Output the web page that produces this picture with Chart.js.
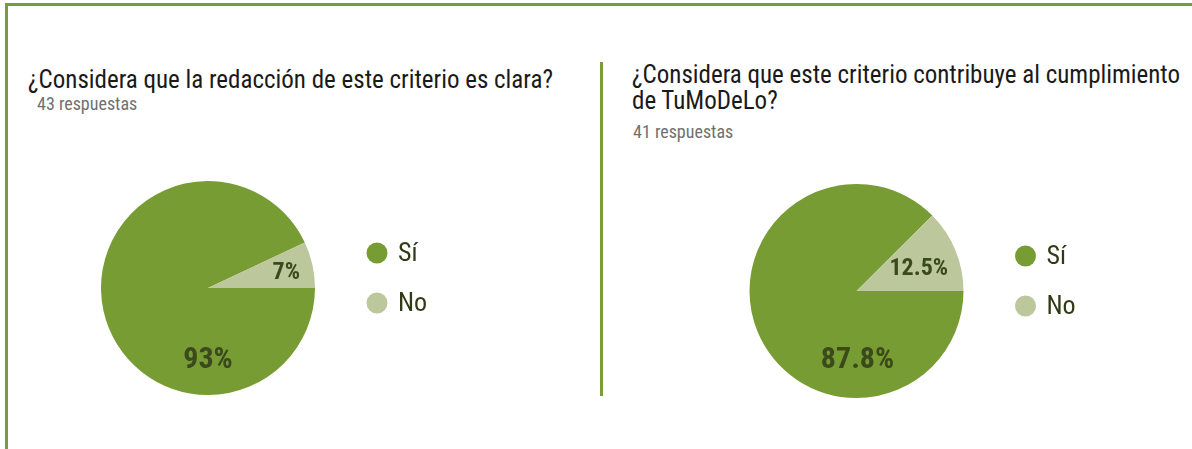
<!DOCTYPE html>
<html><head><meta charset="utf-8">
<script src="https://cdn.jsdelivr.net/npm/chart.js@4.4.1/dist/chart.umd.min.js"></script>
<style>
html,body{margin:0;padding:0;background:#fff;}
body{width:1192px;height:449px;position:relative;overflow:hidden;font-family:"Roboto Condensed","Liberation Sans Narrow","DejaVu Sans Condensed",sans-serif;}
.frameTop{position:absolute;left:5px;top:3px;width:1187px;height:3px;background:#7a9c38;}
.frameLeft{position:absolute;left:5px;top:3px;width:3px;height:446px;background:#7a9c38;}
.divider{position:absolute;left:600px;top:62px;width:3px;height:334px;background:#7a9c38;}
.title{position:absolute;font-size:25px;color:#1a1a1a;line-height:26px;white-space:nowrap;}
.sub{position:absolute;font-size:18px;line-height:18px;color:#707070;white-space:nowrap;}
canvas{position:absolute;}
</style></head><body>
<div class="frameTop"></div><div class="frameLeft"></div><div class="divider"></div>
<div class="title" id="t1" style="left:28px;top:67px;"></div>
<div class="sub" id="s1" style="left:37px;top:95px;"></div>
<div class="title" id="t2" style="left:632px;top:62px;"></div>
<div class="sub" id="s2" style="left:633px;top:123px;"></div>
<div id="c1wrap" style="position:absolute;left:90px;top:170px;width:400px;height:240px;"><canvas id="c1"></canvas></div>
<div id="c2wrap" style="position:absolute;left:740px;top:170px;width:400px;height:240px;"><canvas id="c2"></canvas></div>
<script>
// ---- data ----
const categories = ["Sí", "No"];
const q1Title = "¿Considera que la redacción de este criterio es clara?";
const q1Responses = "43 respuestas";
const q1Values = [93, 7];
const q2TitleLines = ["¿Considera que este criterio contribuye al cumplimiento", "de TuMoDeLo?"];
const q2Responses = "41 respuestas";
const q2Values = [87.8, 12.5];
const colors = ["#789c34", "#bcc79c"];

document.getElementById('t1').textContent = q1Title;
document.getElementById('s1').textContent = q1Responses;
document.getElementById('t2').innerHTML = q2TitleLines.map(s=>s.replace(/&/g,'&amp;')).join('<br>');
document.getElementById('s2').textContent = q2Responses;

const FONT = '"Roboto Condensed","Liberation Sans Narrow","DejaVu Sans Condensed",sans-serif';

const pctLabels = {
  id: 'pctLabels',
  afterDatasetsDraw(chart, args, opts) {
    const ctx = chart.ctx;
    const meta = chart.getDatasetMeta(0);
    const data = chart.data.datasets[0].data;
    meta.data.forEach((arc, i) => {
      const p = arc.getProps(['x','y','startAngle','endAngle','outerRadius'], true);
      const span = p.endAngle - p.startAngle;
      let ang, rf, size;
      if (span > Math.PI) { ang = Math.PI/2; rf = opts.bigR; size = opts.bigSize; }
      else { ang = (p.startAngle + p.endAngle)/2; rf = opts.smallR; size = opts.smallSize; }
      const x = p.x + Math.cos(ang) * p.outerRadius * rf;
      const y = p.y + Math.sin(ang) * p.outerRadius * rf;
      ctx.save();
      ctx.font = 'bold ' + size + 'px ' + FONT;
      ctx.fillStyle = '#3a4a1b';
      ctx.textAlign = 'center';
      ctx.textBaseline = 'middle';
      ctx.fillText(data[i] + '%', x + (opts.dx||0), y + 3);
      ctx.restore();
    });
  }
};

const sideLegend = {
  id: 'sideLegend',
  afterDraw(chart, args, opts) {
    const ctx = chart.ctx;
    const meta = chart.getDatasetMeta(0);
    const arc0 = meta.data[0];
    const cx = arc0.x, cy = arc0.y, r = arc0.outerRadius;
    const bg = chart.data.datasets[0].backgroundColor;
    chart.data.labels.forEach((lab, i) => {
      const y = cy - 35 + i * 50;
      const x = cx + r + opts.gap;
      ctx.save();
      ctx.beginPath();
      ctx.arc(x, y, 10.5, 0, Math.PI*2);
      ctx.fillStyle = bg[i];
      ctx.fill();
      ctx.font = '26px ' + FONT;
      ctx.fillStyle = '#2f3a17';
      ctx.textAlign = 'left';
      ctx.textBaseline = 'middle';
      ctx.fillText(lab, x + 21, y + 1);
      ctx.restore();
    });
  }
};

function makePie(id, values, pad, labelOpts) {
  return new Chart(document.getElementById(id), {
    type: 'pie',
    data: { labels: categories, datasets: [{ data: values, backgroundColor: colors, borderWidth: 0 }] },
    options: {
      responsive: true, maintainAspectRatio: false, animation: false,
      rotation: 90,
      layout: { padding: pad },
      plugins: { legend: { display: false }, tooltip: { enabled: false },
        pctLabels: labelOpts, sideLegend: { gap: 62 } }
    },
    plugins: [pctLabels, sideLegend]
  });
}
makePie('c1', q1Values, {left: 11, top: 11, right: 175, bottom: 15},
  {bigR: 0.645, bigSize: 30, smallR: 0.75, smallSize: 24});
makePie('c2', q2Values, {left: 9, top: 14, right: 176, bottom: 12},
  {bigR: 0.62, bigSize: 30, smallR: 0.62, smallSize: 24, dx: 1});
</script>
</body></html>
